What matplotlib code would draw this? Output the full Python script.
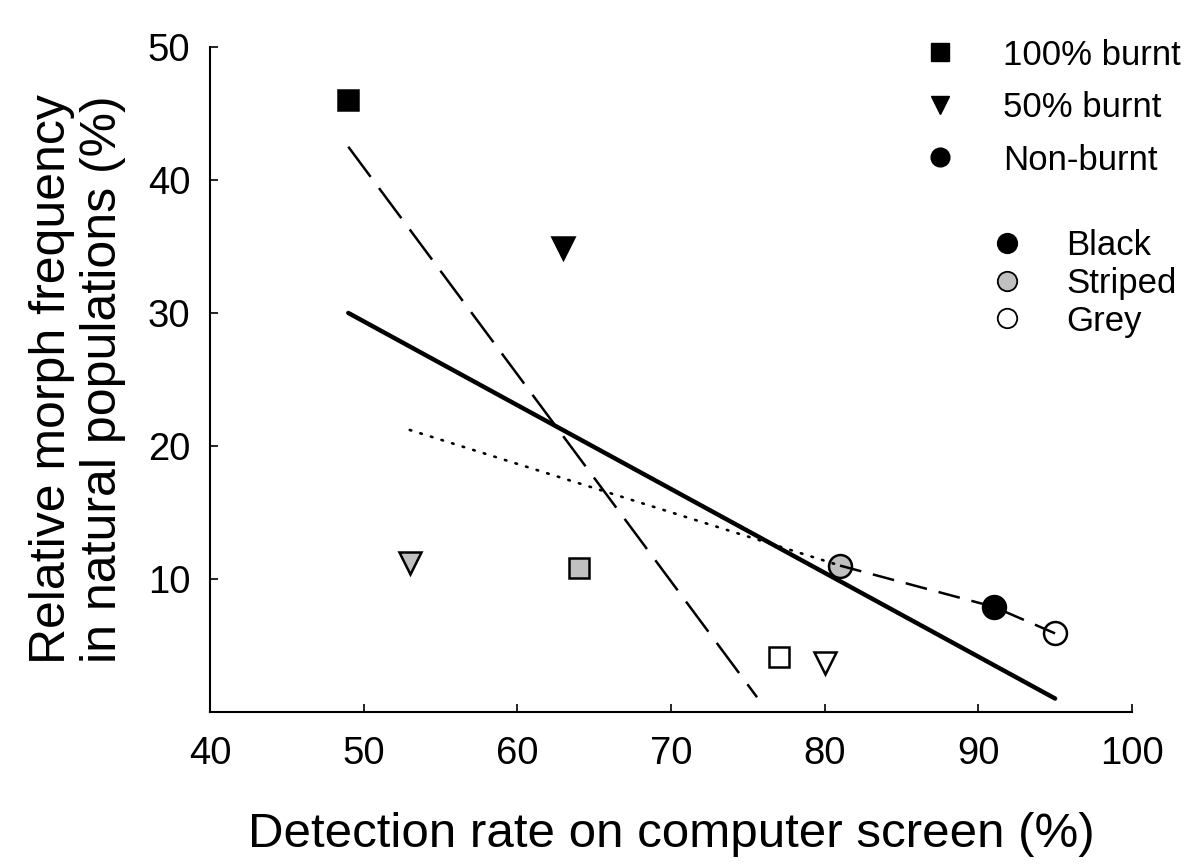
import matplotlib
matplotlib.use("Agg")
import matplotlib.pyplot as plt
from matplotlib.lines import Line2D

plt.rcParams['font.family'] = ['Liberation Sans', 'DejaVu Sans']

# burning treatment per column, morph per row
treatments = ['100% burnt', '50% burnt', 'Non-burnt']
treat_markers = ['s', 'v', 'o']
morphs = ['Black', 'Striped', 'Grey']
morph_colors = ['black', '#c0c0c0', 'white']

# detection rate (%) for each morph, in treatment order
detect_black = [49, 63, 91]
detect_striped = [64, 53, 81]
detect_grey = [77, 80, 95]

# relative morph frequency (%) for each morph, in treatment order
freq_black = [46.0, 34.9, 7.9]
freq_striped = [10.8, 11.2, 11.0]
freq_grey = [4.1, 3.7, 5.9]

# fitted lines (end points)
fit_all_x = [49, 95]
fit_all_y = [30.0, 1.0]
fit_burnt_x = [49, 75.6]
fit_burnt_y = [42.5, 1.1]
fit_dot_x = [53, 81]
fit_dot_y = [21.2, 11.0]

detect = [detect_black, detect_striped, detect_grey]
freq = [freq_black, freq_striped, freq_grey]
msizes = {'s': 14.5, 'v': 16, 'o': 16.5}

fig = plt.figure(figsize=(12, 8.66), dpi=100)
ax = fig.add_axes([0.175, 0.178, 0.7683, 0.7677])

for m in range(len(morphs)):
    for t in range(len(treatments)):
        mk = treat_markers[t]
        ax.plot(detect[m][t], freq[m][t], marker=mk, ms=msizes[mk],
                mfc=morph_colors[m], mec='black', mew=1.8,
                linestyle='none', zorder=2)

# connect the non-burnt morphs
nb = len(treatments) - 1
nb_pts = sorted([(detect[m][nb], freq[m][nb]) for m in range(len(morphs))])
ax.plot([p[0] for p in nb_pts], [p[1] for p in nb_pts], color='black',
        lw=1.8, dashes=(8.8, 4.8), zorder=3)

ax.plot(fit_all_x, fit_all_y, color='black', lw=3.2, solid_capstyle='round', zorder=3)
ax.plot(fit_burnt_x, fit_burnt_y, color='black', lw=1.8, dashes=(15, 5.6), zorder=3)
ax.plot(fit_dot_x, fit_dot_y, color='black', lw=1.9, linestyle=(0, (0.6, 3.6)),
        dash_capstyle='round', zorder=3)

ax.set_xlim(40, 100)
ax.set_ylim(0, 50)
ax.set_xticks(range(40, 101, 10))
ax.set_yticks(range(10, 51, 10))
ax.spines['top'].set_visible(False)
ax.spines['right'].set_visible(False)
for s in ['left', 'bottom']:
    ax.spines[s].set_linewidth(1.5)
ax.tick_params(direction='in', length=6, width=1.2, labelsize=27.5)
ax.tick_params(axis='x', pad=17.5)
ax.tick_params(axis='y', pad=14)

ax.set_xlabel('Detection rate on computer screen (%)', fontsize=35.5, labelpad=29)
ax.set_ylabel('Relative morph frequency\nin natural populations (%)', fontsize=36,
              labelpad=16, linespacing=1.12)

h1 = [Line2D([], [], marker=mk, ms=13.5, color='black', linestyle='none')
      for mk in treat_markers]
leg1 = ax.legend(h1, treatments, loc='upper left', bbox_to_anchor=(0.7688, 0.9554),
                 bbox_transform=fig.transFigure, frameon=False, fontsize=25,
                 handlelength=1.0, handletextpad=1.32, labelspacing=0.56,
                 borderpad=0, borderaxespad=0)
ax.add_artist(leg1)

h2 = [Line2D([], [], marker='o', ms=14, mfc=c, mec='black', mew=1.3, linestyle='none')
      for c in morph_colors]
ax.legend(h2, morphs, loc='upper left', bbox_to_anchor=(0.8247, 0.735),
          bbox_transform=fig.transFigure, frameon=False, fontsize=25,
          handlelength=1.0, handletextpad=1.2, labelspacing=0.13,
          borderpad=0, borderaxespad=0)

fig.savefig('out.png', dpi=100)
